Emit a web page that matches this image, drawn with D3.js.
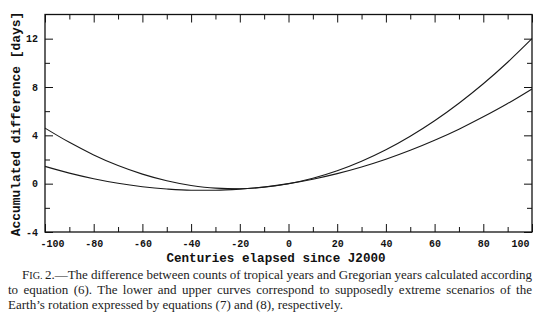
<!DOCTYPE html>
<html>
<head>
<meta charset="utf-8">
<script src="https://cdn.jsdelivr.net/npm/d3@7"></script>
<style>
  html, body { margin: 0; padding: 0; background: #fff; }
  svg { display: block; }
</style>
</head>
<body>
<svg id="chart" width="540" height="334"></svg>
<script>
// Centuries elapsed since J2000
const centuries = [-100, -90, -80, -70, -60, -50, -40, -30, -20, -10, 0,
                   10, 20, 30, 40, 50, 60, 70, 80, 90, 100];
// Accumulated difference [days], scenario of equation (8) (upper curve)
const upperDays = [4.6, 3.42, 2.38, 1.5, 0.79, 0.24, -0.15, -0.37, -0.42, -0.29, 0,
                   0.45, 1.07, 1.86, 2.81, 3.93, 5.21, 6.66, 8.27, 10.05, 12.0];
// Accumulated difference [days], scenario of equation (7) (lower curve)
const lowerDays = [1.43, 0.87, 0.41, 0.03, -0.25, -0.44, -0.54, -0.54, -0.45, -0.27, 0,
                   0.37, 0.83, 1.38, 2.02, 2.76, 3.59, 4.51, 5.53, 6.63, 7.84];

const xMajorTicks = [-100, -80, -60, -40, -20, 0, 20, 40, 60, 80, 100];
const xMinorTicks = [-90, -70, -50, -30, -10, 10, 30, 50, 70, 90];
const yMajorTicks = [-4, 0, 4, 8, 12];
const yMinorTicks = [-2, 2, 6, 10];

const xTitle = "Centuries elapsed since J2000";
const yTitle = "Accumulated difference [days]";
const captionLines = [
  "2.\u2014The difference between counts of tropical years and Gregorian years calculated according",
  "to equation (6). The lower and upper curves correspond to supposedly extreme scenarios of the",
  "Earth\u2019s rotation expressed by equations (7) and (8), respectively."
];

const svg = d3.select("#chart");
const L = 45, R = 532, T = 14.5, B = 232;

const x = d3.scaleLinear().domain([-100, 100]).range([L, R]);
const y = d3.scaleLinear().domain([-4, 14]).range([B, T]);

const tickFont = "'Liberation Mono', 'DejaVu Sans Mono', monospace";
const MAJ = 8, MIN = 5;
const fmt = d => d < 0 ? "-" + Math.abs(d) : String(d);

function styleAxis(g) {
  g.select(".domain").remove();
  g.selectAll(".tick line").attr("stroke", "#111").attr("stroke-width", 1);
  g.selectAll(".tick text")
    .attr("fill", "#111")
    .attr("font-family", tickFont)
    .attr("font-weight", "bold")
    .attr("font-size", 10);
}

// bottom axis (labelled) and minor ticks
const bottom = svg.append("g").attr("transform", `translate(0,${B})`)
  .call(d3.axisBottom(x).tickValues(xMajorTicks).tickSizeInner(-MAJ).tickSizeOuter(0)
        .tickPadding(8).tickFormat(fmt))
  .call(styleAxis);
// end labels sit inside the frame edges
bottom.selectAll(".tick text")
  .attr("dx", d => d === -100 ? 7 : d === 100 ? -12 : 0);
svg.append("g").attr("transform", `translate(0,${B})`)
  .call(d3.axisBottom(x).tickValues(xMinorTicks).tickSizeInner(-MIN).tickSizeOuter(0).tickFormat(""))
  .call(styleAxis);
// top axis
svg.append("g").attr("transform", `translate(0,${T})`)
  .call(d3.axisTop(x).tickValues(xMajorTicks).tickSizeInner(-MAJ).tickSizeOuter(0).tickFormat(""))
  .call(styleAxis);
svg.append("g").attr("transform", `translate(0,${T})`)
  .call(d3.axisTop(x).tickValues(xMinorTicks).tickSizeInner(-MIN).tickSizeOuter(0).tickFormat(""))
  .call(styleAxis);
// left axis (labelled)
svg.append("g").attr("transform", `translate(${L},0)`)
  .call(d3.axisLeft(y).tickValues(yMajorTicks).tickSizeInner(-MAJ).tickSizeOuter(0)
        .tickPadding(7).tickFormat(fmt))
  .call(styleAxis);
svg.append("g").attr("transform", `translate(${L},0)`)
  .call(d3.axisLeft(y).tickValues(yMinorTicks).tickSizeInner(-MIN).tickSizeOuter(0).tickFormat(""))
  .call(styleAxis);
// right axis
svg.append("g").attr("transform", `translate(${R},0)`)
  .call(d3.axisRight(y).tickValues(yMajorTicks).tickSizeInner(-MAJ).tickSizeOuter(0).tickFormat(""))
  .call(styleAxis);
svg.append("g").attr("transform", `translate(${R},0)`)
  .call(d3.axisRight(y).tickValues(yMinorTicks).tickSizeInner(-MIN).tickSizeOuter(0).tickFormat(""))
  .call(styleAxis);

// frame
svg.append("rect")
  .attr("x", L).attr("y", T).attr("width", R - L).attr("height", B - T)
  .attr("fill", "none").attr("stroke", "#111").attr("stroke-width", 1.3);

// curves
const line = d3.line()
  .x((d, i) => x(centuries[i]))
  .y(d => y(d))
  .curve(d3.curveMonotoneX);

[upperDays, lowerDays].forEach(series => {
  svg.append("path")
    .datum(series)
    .attr("d", line)
    .attr("fill", "none")
    .attr("stroke", "#1a1a1a")
    .attr("stroke-width", 1.1);
});

// axis titles
svg.append("text")
  .attr("x", 276).attr("y", 262)
  .attr("text-anchor", "middle")
  .attr("font-family", tickFont)
  .attr("font-weight", "bold")
  .attr("font-size", 12.6)
  .attr("fill", "#111")
  .text(xTitle);

svg.append("text")
  .attr("transform", "translate(20,124) rotate(-90)")
  .attr("text-anchor", "middle")
  .attr("font-family", tickFont)
  .attr("font-weight", "bold")
  .attr("font-size", 12.9)
  .attr("fill", "#111")
  .text(yTitle);

// figure caption, justified to the right margin except for its last line
const capFont = "'Liberation Serif', 'Times New Roman', serif";
const capRight = 532;
captionLines.forEach((txt, i) => {
  const x0 = i === 0 ? 22 : 8;
  const t = svg.append("text")
    .attr("x", x0).attr("y", 279 + i * 15.2)
    .attr("font-family", capFont)
    .attr("font-size", 13)
    .attr("fill", "#222");
  if (i === 0) {
    t.append("tspan").text("F");
    t.append("tspan").attr("font-size", 10.2).text("IG. ");
  }
  t.append("tspan").text(txt);
  if (i < captionLines.length - 1) {
    const w = t.node().getComputedTextLength();
    const full = (i === 0 ? "FIG. " : "") + txt;
    const spaces = (full.match(/ /g) || []).length;
    t.attr("word-spacing", (capRight - x0 - w) / spaces);
  }
});
</script>
</body>
</html>
